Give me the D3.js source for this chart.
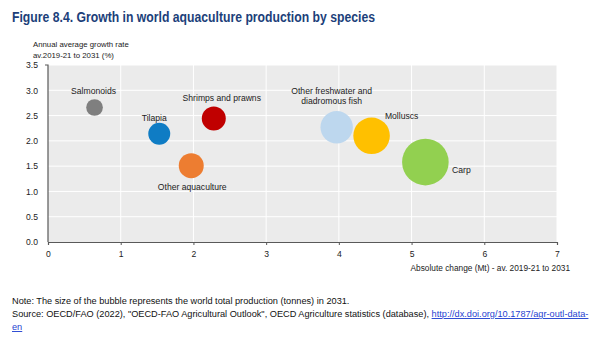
<!DOCTYPE html>
<html><head><meta charset="utf-8">
<script src="https://cdn.jsdelivr.net/npm/d3@7"></script>
<style>
body{margin:0;background:#fff;}
svg{display:block;}
</style></head>
<body>
<svg id="c" width="600" height="341"></svg>
<script>
const species = ["Salmonoids","Tilapia","Shrimps and prawns","Other aquaculture","Other freshwater and diadromous fish","Molluscs","Carp"];
const absChange = [0.64, 1.53, 2.28, 1.97, 3.97, 4.45, 5.19];
const growthRate = [2.66, 2.14, 2.44, 1.51, 2.27, 2.10, 1.58];
const production2031 = [4.1, 7.1, 8.5, 9.2, 15.5, 19.7, 32.0];
const colors = ["#7f7f7f","#0f7cc4","#c00000","#ed7d31","#bdd7ee","#ffc000","#92d050"];
const xTicks = [0,1,2,3,4,5,6,7];
const yTicks = [0,0.5,1,1.5,2,2.5,3,3.5];

const F = "'Liberation Sans',Arial,sans-serif";
const svg = d3.select("#c");
const L=48,R=557,T=65,B=242;
const x = d3.scaleLinear().domain([0,7]).range([L,R]);
const y = d3.scaleLinear().domain([0,3.5]).range([B,T]);
const r = d3.scaleSqrt().domain([0,32]).range([0,23.3]);

svg.append("text").attr("x",12).attr("y",22).attr("font-family",F).attr("font-weight","bold")
  .attr("font-size",14.5).attr("fill","#1c3f7a").attr("textLength",363).attr("lengthAdjust","spacingAndGlyphs")
  .text("Figure 8.4. Growth in world aquaculture production by species");

svg.append("text").attr("x",33).attr("y",47).attr("font-family",F).attr("font-size",7.8).attr("fill","#222").text("Annual average growth rate");
svg.append("text").attr("x",33).attr("y",57.5).attr("font-family",F).attr("font-size",7.8).attr("fill","#222").text("av.2019-21 to 2031 (%)");

svg.append("rect").attr("x",L).attr("y",T).attr("width",R-L).attr("height",B-T).attr("fill","#ebebeb");
svg.append("g").selectAll("line").data(yTicks.slice(1)).join("line")
  .attr("x1",L).attr("x2",R).attr("y1",d=>y(d)).attr("y2",d=>y(d)).attr("stroke","#fff").attr("stroke-width",1);
svg.append("g").selectAll("line").data(xTicks.slice(1)).join("line")
  .attr("y1",T).attr("y2",B).attr("x1",d=>x(d)).attr("x2",d=>x(d)).attr("stroke","#fff").attr("stroke-width",1);

const ya = svg.append("g").attr("transform",`translate(${L},0)`)
  .call(d3.axisLeft(y).tickValues(yTicks).tickFormat(d3.format(".1f")).tickSize(0).tickPadding(10));
const xa = svg.append("g").attr("transform",`translate(0,${B})`)
  .call(d3.axisBottom(x).tickValues(xTicks).tickFormat(d3.format("d")).tickSize(3).tickPadding(6));
[ya,xa].forEach(a=>{a.select(".domain").attr("stroke","#595959").attr("stroke-width",1.2);
  a.selectAll(".tick line").attr("stroke","#595959");
  a.selectAll("text").attr("font-family",F).attr("font-size",8.6).attr("fill","#222");});
ya.select(".domain").attr("d",`M-3,${T}H0V${B}`);

svg.append("text").attr("x",570).attr("y",271).attr("text-anchor","end").attr("font-family",F).attr("font-size",8.3).attr("fill","#222")
  .text("Absolute change (Mt) - av. 2019-21 to 2031");

const idx = d3.range(species.length).sort((a,b)=>production2031[b]-production2031[a]);
svg.append("g").selectAll("circle").data(idx).join("circle")
  .attr("cx",i=>x(absChange[i])).attr("cy",i=>y(growthRate[i])).attr("r",i=>r(production2031[i])).attr("fill",i=>colors[i]);

// label offsets relative to bubble centre
const lab = {
  "Salmonoids":[[-1,-16]],
  "Tilapia":[[-5,-16]],
  "Shrimps and prawns":[[8,-20.5]],
  "Other aquaculture":[[1,21]],
  "Other freshwater and diadromous fish":[[-5,-36.5,"Other freshwater and"],[-5,-26,"diadromous fish"]],
  "Molluscs":[[13.3,-19.7,null,"start"]],
  "Carp":[[26.7,8.4,null,"start"]]
};
species.forEach((s,i)=>{
  lab[s].forEach(l=>{
    svg.append("text").attr("x",x(absChange[i])+l[0]).attr("y",y(growthRate[i])+l[1]+3)
      .attr("text-anchor",l[3]||"middle").attr("font-family",F).attr("font-size",8.6).attr("fill","#222")
      .text(l[2]||s);
  });
});

const n = svg.append("g").attr("font-family",F).attr("font-size",9.2).attr("fill","#111");
n.append("text").attr("x",12).attr("y",304).text("Note: The size of the bubble represents the world total production (tonnes) in 2031.");
const s2 = n.append("text").attr("x",12).attr("y",317);
s2.append("tspan").text("Source: OECD/FAO (2022), \"OECD-FAO Agricultural Outlook\", OECD Agriculture statistics (database), ");
s2.append("tspan").attr("fill","#1f3fd1").attr("text-decoration","underline").text("http://dx.doi.org/10.1787/agr-outl-data-");
n.append("text").attr("x",12).attr("y",330).attr("fill","#1f3fd1").attr("text-decoration","underline").text("en");
</script>
</body></html>
